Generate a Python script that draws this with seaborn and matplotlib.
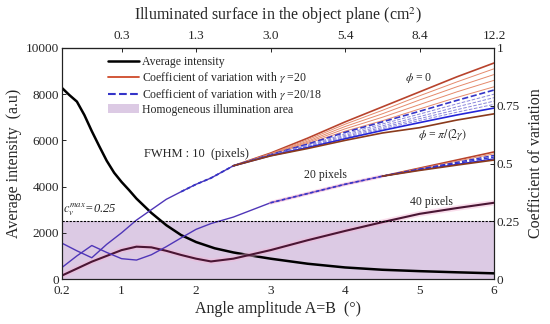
import numpy as np
import pandas as pd
import matplotlib
matplotlib.use("Agg")
import matplotlib.pyplot as plt
import seaborn as sns
from matplotlib.lines import Line2D
from matplotlib.patches import Patch

# ---------------- data ----------------
angle = [0.2, 0.3, 0.4, 0.5, 0.6, 0.7, 0.8, 0.9, 1.0, 1.1, 1.2, 1.4, 1.6, 1.8,
         2.0, 2.25, 2.5, 2.75, 3.0, 3.5, 4.0, 4.5, 5.0, 5.5, 6.0]
intensity = [8270, 7960, 7680, 7100, 6400, 5750, 5120, 4600, 4200, 3850, 3480,
             2860, 2330, 1900, 1600, 1330, 1150, 1010, 880, 660, 500, 400, 340,
             290, 245]

angle_cv = [0.2, 0.4, 0.6, 0.8, 1.0, 1.2, 1.4, 1.6, 1.8, 2.0, 2.2, 2.5, 3.0,
            3.5, 4.0, 4.5, 5.0, 5.5, 6.0]

# FWHM 10 px : common part up to 2.5, then fan of curves
fwhm10_base = [0.155, 0.122, 0.092, 0.15, 0.20, 0.255, 0.30, 0.345, 0.378,
               0.41, 0.437, 0.49]
fan10_x = [2.5, 3.0, 3.5, 4.0, 4.5, 5.0, 5.5, 6.0]
fan10_red_top = [0.49, 0.545, 0.61, 0.68, 0.745, 0.81, 0.875, 0.935]
fan10_red_thin = [
    [0.49, 0.543, 0.603, 0.67, 0.73, 0.793, 0.853, 0.91],
    [0.49, 0.541, 0.597, 0.66, 0.715, 0.775, 0.832, 0.885],
    [0.49, 0.540, 0.592, 0.65, 0.70, 0.755, 0.81, 0.86],
    [0.49, 0.539, 0.587, 0.64, 0.685, 0.736, 0.786, 0.832],
]
fan10_blue_top = [0.49, 0.538, 0.584, 0.635, 0.68, 0.726, 0.773, 0.818]
fan10_blue_thin = [
    [0.49, 0.537, 0.580, 0.628, 0.671, 0.714, 0.758, 0.80],
    [0.49, 0.536, 0.577, 0.622, 0.663, 0.703, 0.745, 0.785],
    [0.49, 0.535, 0.574, 0.617, 0.656, 0.694, 0.733, 0.77],
    [0.49, 0.535, 0.572, 0.612, 0.650, 0.686, 0.722, 0.756],
]
fan10_blue_solid = [0.49, 0.534, 0.569, 0.607, 0.643, 0.677, 0.71, 0.74]
fan10_bottom = [0.49, 0.533, 0.565, 0.60, 0.632, 0.655, 0.688, 0.715]

# FWHM 20 px : common part up to 4.5, then a narrow fan
fwhm20_base = [0.05, 0.10, 0.145, 0.115, 0.088, 0.082, 0.105, 0.14, 0.178,
               0.215, 0.24, 0.268, 0.33, 0.37, 0.41, 0.445]
fan20_x = [4.5, 5.0, 5.5, 6.0]
fan20_red_top = [0.445, 0.48, 0.515, 0.55]
fan20_red_thin = [0.445, 0.478, 0.51, 0.542]
fan20_blue_dash = [[0.445, 0.476, 0.505, 0.535], [0.445, 0.474, 0.50, 0.528]]
fan20_blue_solid = [0.445, 0.472, 0.496, 0.52]
fan20_bottom = [0.445, 0.47, 0.493, 0.515]

# FWHM 40 px
fwhm40 = [0.015, 0.045, 0.075, 0.10, 0.125, 0.14, 0.137, 0.122, 0.104, 0.088,
          0.076, 0.088, 0.125, 0.168, 0.208, 0.246, 0.282, 0.307, 0.33]

cv_max = 0.25
bottom_ticks = [0.2, 1, 2, 3, 4, 5, 6]
top_tick_pos = [1, 2, 3, 4, 5, 6]
top_tick_labels = ["0.3", "1.3", "3.0", "5.4", "8.4", "12.2"]
left_ticks = [0, 2000, 4000, 6000, 8000, 10000]
right_ticks = [0, 0.25, 0.5, 0.75, 1]
right_tick_labels = ["0", "0.25", "0.5", "0.75", "1"]

# ---------------- style ----------------
sns.set_theme(style="white")
plt.rcParams["font.family"] = ["Liberation Serif", "DejaVu Serif"]
plt.rcParams["mathtext.fontset"] = "stix"
plt.rcParams["axes.edgecolor"] = "#222222"
plt.rcParams["axes.linewidth"] = 0.8

RED_TOP = "#b8432c"
RED_THIN = "#e58a6c"
BLUE_DASH = "#3434c8"
BLUE_THIN = "#8a86dc"
BLUE_SOLID = "#2424d8"
BROWN = "#8a3a1c"
PURPLE = "#4f36b8"
MAROON = "#4a1634"
SHADE = "#dccae4"

fig = plt.figure(figsize=(5.5, 3.24), dpi=100)
ax = fig.add_axes([62 / 550, 45 / 324, 432 / 550, 231 / 324])
ax2 = ax.twinx()

# shaded homogeneous area (cv <= 0.25), drawn on the left axis so it stays behind
ax.axhspan(0, cv_max * 10000, color=SHADE, lw=0, zorder=0)

# average intensity
sns.lineplot(x=angle, y=intensity, ax=ax, color="black", lw=1.8, zorder=3)

def line(x, y, **kw):
    sns.lineplot(x=list(x)[:len(y)], y=y, ax=ax2, **kw)

def tail(x, y, start, **kw):
    xs = list(x)[:len(y)]
    idx = [i for i, v in enumerate(xs) if v >= start]
    sns.lineplot(x=[xs[i] for i in idx], y=[y[i] for i in idx], ax=ax2, **kw)

# faint pink glow around 40-px curve
line(angle_cv, fwhm40, color="#f4b6d6", lw=4, alpha=0.45)
line(angle_cv, fwhm40, color=MAROON, lw=1.5)

# FWHM 20
line(angle_cv, fwhm20_base, color=PURPLE, lw=1.0)
tail(angle_cv, fwhm20_base, 3.0, color="#f0a0c8", lw=2.6, alpha=0.45)
tail(angle_cv, fwhm20_base, 3.0, color=BLUE_DASH, lw=1.2, linestyle=(0, (2, 1.5)))
line(fan20_x, fan20_red_top, color=RED_TOP, lw=1.2)
line(fan20_x, fan20_red_thin, color=RED_THIN, lw=0.7)
for c in fan20_blue_dash:
    line(fan20_x, c, color=BLUE_DASH, lw=1.0, linestyle="--")
line(fan20_x, fan20_blue_solid, color=BLUE_SOLID, lw=1.0)
line(fan20_x, fan20_bottom, color=BROWN, lw=1.2)

# FWHM 10
line(angle_cv, fwhm10_base, color=PURPLE, lw=1.0)
tail(angle_cv, fwhm10_base, 1.8, color=BLUE_DASH, lw=1.3, linestyle=(0, (2, 1.5)))
line(fan10_x, fan10_red_top, color=RED_TOP, lw=1.2)
for c in fan10_red_thin:
    line(fan10_x, c, color=RED_THIN, lw=0.7)
line(fan10_x, fan10_blue_top, color=BLUE_DASH, lw=1.2, linestyle="--")
for c in fan10_blue_thin:
    line(fan10_x, c, color=BLUE_THIN, lw=0.7, linestyle="--")
line(fan10_x, fan10_blue_solid, color=BLUE_SOLID, lw=1.2)
line(fan10_x, fan10_bottom, color=BROWN, lw=1.2)

# cv max line
ax2.axhline(cv_max, color="black", lw=0.8, linestyle=(0, (2, 1.2)))

# axes limits / ticks
ax.set_xlim(0.2, 6)
ax.set_ylim(0, 10000)
ax2.set_ylim(0, 1)
ax.set_xticks(bottom_ticks)
ax.set_xticklabels([str(t) for t in bottom_ticks])
ax.set_yticks(left_ticks)
ax2.set_yticks(right_ticks)
ax2.set_yticklabels(right_tick_labels)
for a in (ax, ax2):
    a.tick_params(direction="in", length=3, width=0.7, labelsize=9.5, pad=2)
    for s in a.spines.values():
        s.set_linewidth(0.8)
ax.tick_params(axis="x", pad=4.5)
ax.tick_params(axis="y", left=True, right=False)
ax2.tick_params(axis="y", right=True)

sec = ax.secondary_xaxis("top")
sec.set_xticks(top_tick_pos, labels=top_tick_labels)
sec.tick_params(direction="in", length=3, width=0.7, labelsize=9.5, pad=4.5)
sec.set_xlabel("Illuminated surface in the object plane (cm$^2$)", fontsize=11.5, labelpad=7)

ax.set_xlabel("Angle amplitude A=B  (°)", fontsize=11.5, labelpad=3)
ax.set_ylabel("Average intensity  (a.u)", fontsize=11.5, labelpad=3)
ax2.set_ylabel("Coefficient of variation", fontsize=11.5, labelpad=6)

# annotations
ax2.text(0.22, 0.265, r"$c_v^{max}$=0.25", fontsize=9, style="italic", ha="left", va="bottom")
ax2.text(1.3, 0.54, "FWHM : 10  (pixels)", fontsize=9, ha="left", va="center")
ax2.text(3.45, 0.45, "20 pixels", fontsize=8.5, ha="left", va="center")
ax2.text(4.87, 0.335, "40 pixels", fontsize=8.5, ha="left", va="center")
ax2.text(4.8, 0.87, r"$\phi$ = 0", fontsize=8.5, ha="left", va="center")
ax2.text(4.98, 0.623, r"$\phi$ = $\pi/(2\gamma)$", fontsize=8.5, ha="left", va="center")

# legend
handles = [
    Line2D([], [], color="black", lw=1.8),
    Line2D([], [], color="#cf4a2a", lw=1.3),
    Line2D([], [], color=BLUE_DASH, lw=1.5, linestyle="--"),
    Patch(facecolor=SHADE, edgecolor="none"),
]
labels = [
    "Average intensity",
    r"Coefficient of variation with $\gamma$ =20",
    r"Coefficient of variation with $\gamma$ =20/18",
    "Homogeneous illumination area",
]
ax2.legend(handles, labels, loc="upper left", bbox_to_anchor=(0.09, 0.995),
           frameon=False, fontsize=8.5, handlelength=2.6, labelspacing=0.15,
           handletextpad=0.25, borderaxespad=0.2)

fig.savefig("out.png", dpi=100)
